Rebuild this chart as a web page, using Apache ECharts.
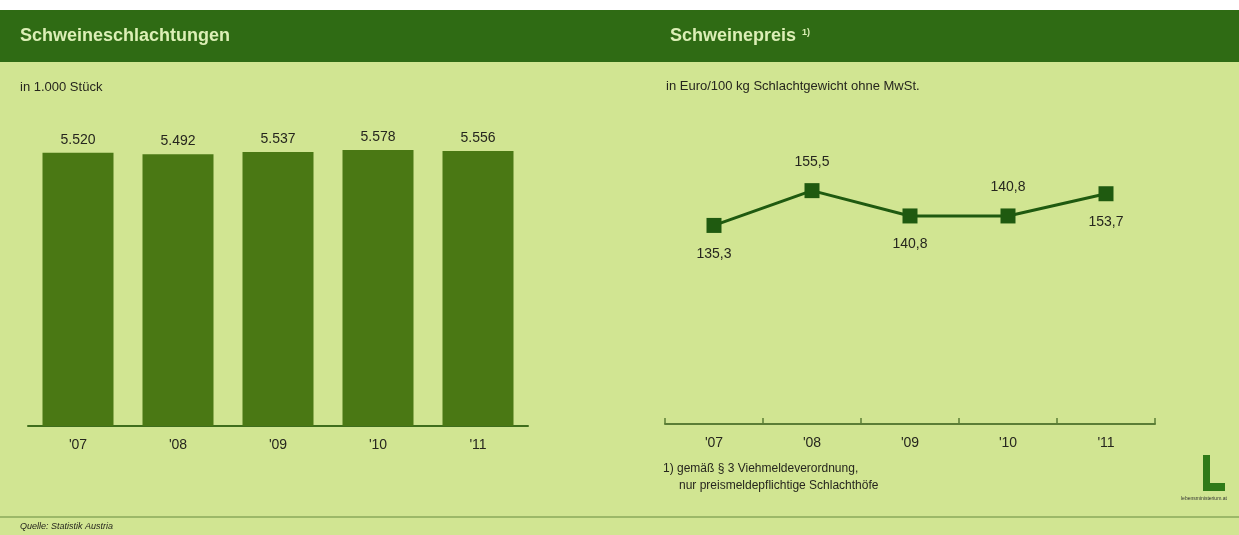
<!DOCTYPE html>
<html>
<head>
<meta charset="utf-8">
<script src="https://cdn.jsdelivr.net/npm/echarts@6/dist/echarts.min.js"></script>
<style>
html,body{margin:0;padding:0;background:#ffffff;}
#chart{width:1239px;height:535px;}
</style>
</head>
<body>
<div id="chart"></div>
<script>
// Data
const years = ["'07", "'08", "'09", "'10", "'11"];
const slaughterValues = [5520, 5492, 5537, 5578, 5556];   // in 1.000 Stück
const priceValues = [135.3, 155.5, 140.8, 140.8, 153.7];   // Euro/100 kg
const priceLabelPos = ['bottom', 'top', 'bottom', 'top', 'bottom'];

const BG = '#d1e592';
const BAND = '#2f6b14';
const BAR = '#4a7814';
const LINE = '#1f5a10';
const TXT = '#26261e';
const FONT = '"Liberation Sans", Arial, sans-serif';

function fmtThousands(v){
  const s = String(Math.round(v));
  return s.replace(/\B(?=(\d{3})+(?!\d))/g, '.');
}
function fmtDec(v){ return v.toFixed(1).replace('.', ','); }

const chart = echarts.init(document.getElementById('chart'), null, {renderer:'canvas'});

const option = {
  backgroundColor: '#ffffff',
  animation: false,
  graphic: [
    {type:'rect', z:-10, shape:{x:0,y:10,width:1239,height:525}, style:{fill:BG}},
    {type:'rect', z:-9, shape:{x:0,y:10,width:1239,height:52}, style:{fill:BAND}},
    {type:'text', left:20, top:27, style:{text:'Schweineschlachtungen', fill:'#dcefb6', font:'bold 18px '+FONT}},
    {type:'text', left:670, top:27, style:{text:'Schweinepreis', fill:'#dcefb6', font:'bold 18px '+FONT}},
    {type:'text', left:802, top:28, style:{text:'1)', fill:'#dcefb6', font:'bold 9px '+FONT}},
    {type:'text', left:20, top:81, style:{text:'in 1.000 Stück', fill:TXT, font:'13px '+FONT}},
    {type:'text', left:666, top:80, style:{text:'in Euro/100 kg Schlachtgewicht ohne MwSt.', fill:TXT, font:'13px '+FONT}},
    {type:'text', left:663, top:463, style:{text:'1) gemäß § 3 Viehmeldeverordnung,', fill:TXT, font:'12px '+FONT}},
    {type:'text', left:679, top:480, style:{text:'nur preismeldepflichtige Schlachthöfe', fill:TXT, font:'12px '+FONT}},
    {type:'line', shape:{x1:0,y1:517,x2:1239,y2:517}, style:{stroke:'#8aa85a', lineWidth:1.5}},
    {type:'text', left:20, top:522, style:{text:'Quelle: Statistik Austria', fill:TXT, font:'italic 9px '+FONT}},
    // logo
    {type:'rect', shape:{x:1203,y:455,width:7,height:36}, style:{fill:'#2f7a18'}},
    {type:'rect', shape:{x:1203,y:483,width:22,height:8}, style:{fill:'#2f7a18'}},
    {type:'text', left:1181, top:496, style:{text:'lebensministerium.at', fill:'#333', font:'5px '+FONT}}
  ],
  grid: [
    {left:28, top:129, width:500, height:297},
    {left:665, top:114, width:490, height:310}
  ],
  xAxis: [
    {
      gridIndex:0, type:'category', data:years,
      axisLine:{lineStyle:{color:'#3f6e1c', width:2}},
      axisTick:{show:false},
      axisLabel:{color:TXT, fontSize:14, fontFamily:FONT, margin:12}
    },
    {
      gridIndex:1, type:'category', data:years, boundaryGap:true,
      axisLine:{lineStyle:{color:'#5b7d36', width:2}},
      axisTick:{show:true, inside:true, length:6, lineStyle:{color:'#5b7d36', width:1.5}},
      axisLabel:{color:TXT, fontSize:14, fontFamily:FONT, margin:12}
    }
  ],
  yAxis: [
    {gridIndex:0, type:'value', min:0, max:6000, show:false},
    {gridIndex:1, type:'value', min:20, max:200, show:false}
  ],
  series: [
    {
      type:'bar', xAxisIndex:0, yAxisIndex:0, data:slaughterValues,
      barWidth:71,
      itemStyle:{color:BAR},
      label:{show:true, position:'top', distance:6, color:TXT, fontSize:14, fontFamily:FONT,
        formatter:p=>fmtThousands(p.value)}
    },
    {
      type:'line', xAxisIndex:1, yAxisIndex:1,
      data: priceValues.map((v,i)=>({value:v, label:{position:priceLabelPos[i]}})),
      symbol:'rect', symbolSize:15,
      lineStyle:{color:LINE, width:3},
      itemStyle:{color:LINE},
      label:{show:true, distance:14, color:TXT, fontSize:14, fontFamily:FONT,
        formatter:p=>fmtDec(p.value)}
    }
  ]
};
chart.setOption(option);
</script>
</body>
</html>
